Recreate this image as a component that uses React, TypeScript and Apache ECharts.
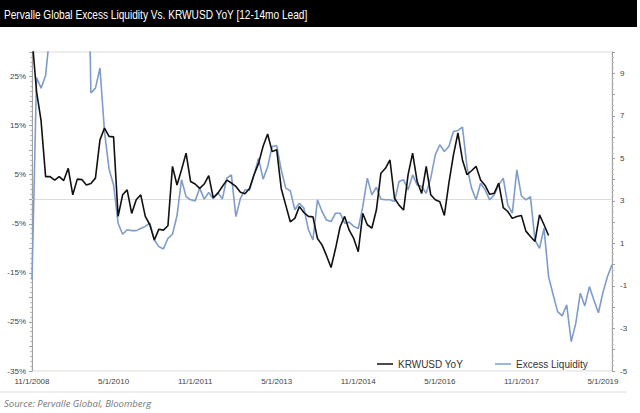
import React, { useEffect, useRef } from "react";
import * as echarts from "echarts";

// Monthly categories: Nov 2008 .. Jul 2019
const START_YEAR = 2008;
const START_MONTH = 11;
const MONTH_COUNT = 129;
const categories: string[] = [];
for (let i = 0; i < MONTH_COUNT; i++) {
  const m0 = START_MONTH - 1 + i;
  const y = START_YEAR + Math.floor(m0 / 12);
  const m = (m0 % 12) + 1;
  categories.push(`${m}/1/${y}`);
}

// KRWUSD YoY (%), left axis
const krwusdYoY: (number | null)[] = [
  33, 22, 16, 4.6, 4.6, 3.9, 4.6, 3.8, 6.3, 0.9,
  4.1, 4.0, 2.9, 3.2, 4.3, 12.1, 14.5, 12.8, 12.7, -3.5,
  0.9, 1.9, -2.9, -0.1, 0.9, -3.5, -5.2, -8.3, -6.1, -6.3,
  -5.4, 6.7, 2.9, 6.0, 9.4, 3.6, 3.1, 2.2, 3.1, 4.8,
  0.3, 1.2, 2.6, 3.9, 3.3, 2.6, 1.4, 1.1, 2.2, 5.0,
  7.3, 10.8, 13.3, 9.7, 10.1, 2.2, -1.2, -4.6, -3.9, -1.5,
  -2.7, -3.5, -3.6, -8.0, -9.3, -11.5, -13.9, -10, -5.6, -3.5,
  -6.3, -8.0, -10.7, -2.9, -5.2, -5.9, -2.2, 5.3, 6.3, 8.0,
  0.2, -1.2, -2.2, 5.0, 9.4, 3.6, 1.2, 6.7, 0.9, -0.1,
  -0.5, -3.3, 3.3, 9.0, 13.5, 8.0, 5.0, 5.8, 6.7, 3.9,
  2.8, 1.0, 1.2, 3.3, -1.7, -2.5, -3.9, -3.5, -3.3, -6.5,
  -7.6, -8.6, -3.2, -5.2, -7.4,
];

// Excess Liquidity, right axis (values above 10 run off the top of the plot)
const excessLiquidity: number[] = [
  -0.7, 8.8, 8.3, 8.9, 11, 20, 20, 20, 20, 20,
  20, 20, 20, 8.07, 8.3, 9.25, 6.26, 4.5, 3.75, 1.95,
  1.43, 1.64, 1.6, 1.6, 1.7, 1.8, 1.95, 1.16, 0.85, 0.74,
  1.24, 1.43, 2.3, 4.0, 3.2, 3.05, 3.0, 3.6, 3.08, 3.39,
  3.1, 3.39, 3.08, 4.07, 4.22, 2.26, 3.12, 3.52, 3.5, 4.22,
  5.0, 4.02, 4.6, 5.56, 5.6, 4.46, 3.6, 3.48, 2.58, 2.89,
  2.66, 1.64, 1.16, 3.05, 2.5, 2.1, 2.03, 2.42, 2.42, 1.95,
  2.0, 1.8, 1.7, 2.73, 4.07, 3.28, 3.64, 3.08, 3.05, 3.05,
  2.97, 3.91, 3.99, 3.52, 4.22, 3.75, 3.67, 3.36, 4.07, 5.16,
  5.64, 5.32, 5.56, 6.26, 6.31, 6.47, 4.6, 3.6, 3.05, 3.83,
  3.52, 3.05, 3.28, 3.75, 4.07, 2.81, 2.42, 4.46, 3.24, 3.05,
  3.2, 1.16, 0.77, 1.71, -0.56, -1.4, -2.21, -2.41, -1.89, -3.62,
  -2.76, -1.34, -1.94, -1.03, -1.66, -2.26, -1.31, -0.56, 0.0,
];

const TITLE = "Pervalle Global Excess Liquidity Vs. KRWUSD YoY [12-14mo Lead]";
const SOURCE = "Source: Pervalle Global, Bloomberg";

export default function App() {
  const ref = useRef<HTMLDivElement>(null);
  useEffect(() => {
    if (!ref.current) return;
    const chart = echarts.init(ref.current, null, { renderer: "svg" });
    const axisFont = "'Liberation Sans', Arial, sans-serif";
    chart.setOption({
      animation: false,
      backgroundColor: "#fff",
      grid: {
        left: 32,
        right: 28,
        top: 52,
        bottom: 42,
        show: true,
        borderColor: "#dcdcdc",
        borderWidth: 1,
      },
      legend: {
        left: 372,
        top: 354,
        itemGap: 32,
        itemWidth: 16,
        itemHeight: 1.5,
        icon: "rect",
        textStyle: {
          fontSize: 10,
          color: "#333",
          fontFamily: axisFont,
        },
        data: ["KRWUSD YoY", "Excess Liquidity"],
      },
      xAxis: {
        type: "category",
        data: categories,
        boundaryGap: false,
        axisLine: { lineStyle: { color: "#b5b5b5" } },
        axisTick: { show: false },
        axisLabel: {
          interval: 17,
          fontSize: 8,
          color: "#444",
          fontFamily: axisFont,
          margin: 6,
        },
        splitLine: { show: false },
      },
      yAxis: [
        {
          type: "value",
          min: -35,
          max: 30,
          interval: 5,
          axisLine: { show: true, lineStyle: { color: "#a0a0a0" } },
          axisTick: { show: true, length: 3, lineStyle: { color: "#a0a0a0" } },
          minorTick: { show: true, splitNumber: 5, length: 2, lineStyle: { color: "#c0c0c0" } },
          axisLabel: {
            fontSize: 8,
            color: "#444",
            fontFamily: axisFont,
            margin: 6,
            formatter: (v: number) => (Math.round(v) % 10 !== 0 ? `${v}%` : ""),
          },
          splitLine: { show: false },
        },
        {
          type: "value",
          min: -5,
          max: 10,
          interval: 1,
          position: "right",
          axisLine: { show: true, lineStyle: { color: "#a0a0a0" } },
          axisTick: { show: true, length: 3, lineStyle: { color: "#a0a0a0" } },
          minorTick: { show: true, splitNumber: 4, length: 2, lineStyle: { color: "#c0c0c0" } },
          axisLabel: {
            fontSize: 8,
            color: "#444",
            fontFamily: axisFont,
            margin: 8,
            formatter: (v: number) => (Math.abs(Math.round(v)) % 2 === 1 ? `${v}` : ""),
          },
          splitLine: { show: false },
        },
      ],
      series: [
        {
          name: "Excess Liquidity",
          type: "line",
          yAxisIndex: 1,
          data: excessLiquidity,
          showSymbol: false,
          symbol: "none",
          color: "#7f9ccb",
          lineStyle: { color: "#7f9ccb", width: 1.6 },
          clip: true,
          z: 2,
        },
        {
          name: "KRWUSD YoY",
          type: "line",
          yAxisIndex: 0,
          data: krwusdYoY,
          showSymbol: false,
          symbol: "none",
          color: "#111",
          lineStyle: { color: "#111", width: 1.6 },
          clip: true,
          z: 3,
          markLine: {
            silent: true,
            symbol: "none",
            label: { show: false },
            lineStyle: { color: "#dcdcdc", width: 1, type: "solid" },
            data: [{ yAxis: 0 }],
            z: 1,
          },
        },
      ],
      graphic: [
        {
          type: "rect",
          shape: { x: 0, y: 0, width: 637, height: 27 },
          style: { fill: "#000" },
        },
        {
          type: "text",
          x: 4,
          y: 14,
          scaleX: 0.75,
          style: {
            text: TITLE,
            fill: "#fff",
            fontSize: 13.5,
            fontFamily: "'Liberation Sans', Arial, sans-serif",
            verticalAlign: "middle",
          },
        },
        {
          type: "line",
          shape: { x1: 0, y1: 392, x2: 627, y2: 392 },
          style: { stroke: "#dedede", lineWidth: 1 },
        },
        {
          type: "text",
          x: 4,
          y: 403,
          style: {
            text: SOURCE,
            fill: "#777",
            fontSize: 9.5,
            fontStyle: "italic",
            fontFamily: "'Open Sans', 'Liberation Sans', sans-serif",
            verticalAlign: "middle",
          },
        },
      ],
    });
    return () => chart.dispose();
  }, []);
  return (
    <div
      ref={ref}
      style={{ position: "fixed", left: 0, top: 0, width: 640, height: 413 }}
    />
  );
}
